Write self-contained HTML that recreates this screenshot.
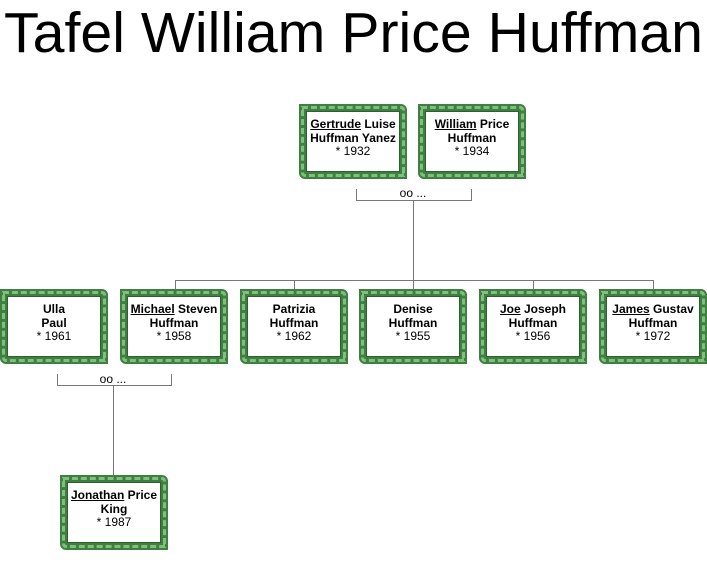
<!DOCTYPE html>
<html><head><meta charset="utf-8"><style>
body{margin:0;width:707px;height:578px;background:#fff;position:relative;overflow:hidden;font-family:"Liberation Sans",sans-serif}
.b{position:absolute;width:94px;height:61px;border:7px solid #3f7f3f;border-radius:0 6px 0 6px;background:#fff;box-shadow:inset 0 0 0 1px #2f5f2f;
background-clip:padding-box;outline:3px dashed #7fbf7f;outline-offset:-5px}
.t{position:absolute;left:-7px;top:7px;width:108px;text-align:center;font-size:12px;line-height:13.5px;color:#000;font-weight:bold}
.t span{font-weight:normal}
.t u{text-decoration:underline}
.l{position:absolute;background:#777}
.oo{position:absolute;font-size:12px;width:60px;text-align:center}
</style></head><body>
<svg style="position:absolute;left:0;top:0" width="707" height="70"><text x="4" y="52" font-family="Liberation Sans, sans-serif" font-size="57" textLength="699" lengthAdjust="spacingAndGlyphs">Tafel William Price Huffman</text></svg>

<div class="b" style="left:299px;top:104px"><div class="t"><u>Gertrude</u> Luise<br>Huffman Yanez<br><span>* 1932</span></div></div>
<div class="b" style="left:418px;top:104px"><div class="t"><u>William</u> Price<br>Huffman<br><span>* 1934</span></div></div>

<div class="l" style="left:356px;top:189px;width:1px;height:11px"></div>
<div class="l" style="left:471px;top:189px;width:1px;height:11px"></div>
<div class="l" style="left:356px;top:200px;width:116px;height:1px"></div>
<div class="oo" style="left:383px;top:186px">oo ...</div>
<div class="l" style="left:413px;top:200px;width:1px;height:80px"></div>
<div class="l" style="left:175px;top:280px;width:479px;height:1px"></div>
<div class="l" style="left:175px;top:280px;width:1px;height:10px"></div>
<div class="l" style="left:294px;top:280px;width:1px;height:10px"></div>
<div class="l" style="left:413px;top:280px;width:1px;height:10px"></div>
<div class="l" style="left:533px;top:280px;width:1px;height:10px"></div>
<div class="l" style="left:653px;top:280px;width:1px;height:10px"></div>

<div class="b" style="left:0px;top:289px"><div class="t">Ulla<br>Paul<br><span>* 1961</span></div></div>
<div class="b" style="left:120px;top:289px"><div class="t"><u>Michael</u> Steven<br>Huffman<br><span>* 1958</span></div></div>
<div class="b" style="left:240px;top:289px"><div class="t">Patrizia<br>Huffman<br><span>* 1962</span></div></div>
<div class="b" style="left:359px;top:289px"><div class="t">Denise<br>Huffman<br><span>* 1955</span></div></div>
<div class="b" style="left:479px;top:289px"><div class="t"><u>Joe</u> Joseph<br>Huffman<br><span>* 1956</span></div></div>
<div class="b" style="left:599px;top:289px"><div class="t"><u>James</u> Gustav<br>Huffman<br><span>* 1972</span></div></div>

<div class="l" style="left:57px;top:374px;width:1px;height:11px"></div>
<div class="l" style="left:171px;top:374px;width:1px;height:11px"></div>
<div class="l" style="left:57px;top:385px;width:115px;height:1px"></div>
<div class="oo" style="left:83px;top:372px">oo ...</div>
<div class="l" style="left:113px;top:385px;width:1px;height:90px"></div>

<div class="b" style="left:60px;top:475px"><div class="t"><u>Jonathan</u> Price<br>King<br><span>* 1987</span></div></div>
</body></html>
